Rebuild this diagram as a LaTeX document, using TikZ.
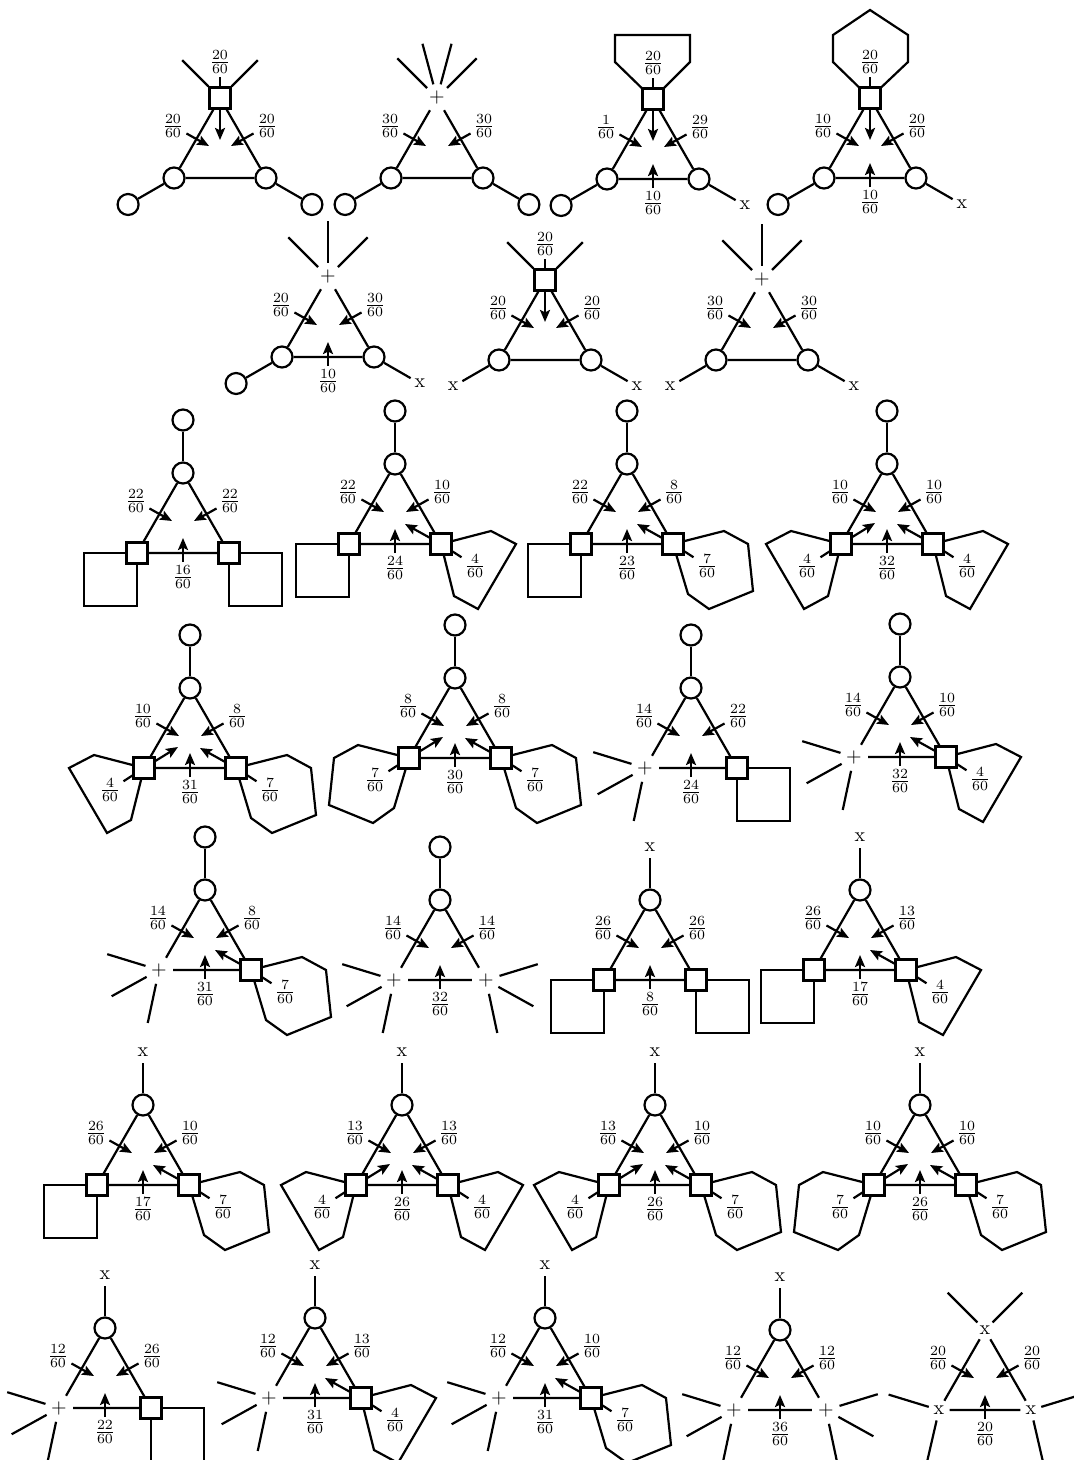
\documentclass[tikz,border=0pt]{standalone}
\usepackage{amsmath}
\usetikzlibrary{arrows.meta,calc,backgrounds}

% one triangle: name, top vertex (image px), shapes of top, left, right vertex
\newcommand{\tri}[6]{%
  \coordinate (#1o) at (#2,-#3);
  \node[#4, name=#1T, at={(#1o)}];
  \node[#5, name=#1L, at={($(#1o)+(-46,-80)$)}];
  \node[#6, name=#1R, at={($(#1o)+(46,-80)$)}];
  \draw (#1T) -- (#1L) -- (#1R) -- (#1T);
}
% edge weights
\newcommand{\edgeL}[2]{%
  \node[lab] (#1el) at ($(#1o)+(-47,-28)$) {$\frac{#2}{60}$};
  \coordinate (#1al) at ($(#1o)+(-11,-48)$);
  \draw[arr] (#1el) -- (#1al);
}
\newcommand{\edgeR}[2]{%
  \node[lab] (#1er) at ($(#1o)+(47,-28)$) {$\frac{#2}{60}$};
  \coordinate (#1ar) at ($(#1o)+(11,-48)$);
  \draw[arr] (#1er) -- (#1ar);
}
\newcommand{\edgeB}[2]{%
  \node[lab] (#1eb) at ($(#1o)+(0,-104)$) {$\frac{#2}{60}$};
  \coordinate (#1ab) at ($(#1o)+(0,-65)$);
  \draw[arr] (#1eb) -- (#1ab);
}
% vertex weights
\newcommand{\topArr}[2]{%
  \node[lab] (#1et) at ($(#1o)+(0,36)$) {$\frac{#2}{60}$};
  \draw (#1T) -- (#1et);
  \coordinate (#1at) at ($(#1o)+(0,-42)$);
  \draw[arr] (#1T) -- (#1at);
}
\newcommand{\vArrL}[2]{%
  \node[lab] (#1vl) at ($(#1o)+(-80,-102)$) {$\frac{#2}{60}$};
  \draw (#1L) -- (#1vl);
  \coordinate (#1bl) at ($(#1o)+(-12,-59)$);
  \draw[arr] (#1L) -- (#1bl);
}
\newcommand{\vArrR}[2]{%
  \node[lab] (#1vr) at ($(#1o)+(80,-102)$) {$\frac{#2}{60}$};
  \draw (#1R) -- (#1vr);
  \coordinate (#1br) at ($(#1o)+(10,-60)$);
  \draw[arr] (#1R) -- (#1br);
}
% half edges and pendants
\newcommand{\legs}[3]{\foreach \a in {#2} \draw (#1.\a) -- ++(\a:#3);}
\newcommand{\pendC}[2]{%
  \node[vc, name=#1p, at={($(#1)+(#2:53)$)}];
  \draw (#1) -- (#1p);
}
\newcommand{\pendX}[2]{%
  \node[vx, name=#1p, at={($(#1)+(#2:53)$)}];
  \draw (#1) -- (#1p);
}
% faces at a square vertex (s = 1 right, s = -1 left)
\newcommand{\faceSq}[2]{\begin{scope}[on background layer, shift={(#1.center)}, xscale=#2]
  \draw[faceline] (0,0) -- (53,0) -- (53,-53) -- (0,-53) -- cycle;
\end{scope}}
\newcommand{\facePent}[2]{\begin{scope}[on background layer, shift={(#1.center)}, xscale=#2]
  \draw[faceline] (0,0) -- (50,13) -- (75,0) -- (37,-65) -- (13,-52) -- cycle;
\end{scope}}
\newcommand{\faceHex}[2]{\begin{scope}[on background layer, shift={(#1.center)}, xscale=#2]
  \draw[faceline] (0,0) -- (51,13) -- (75,0) -- (80,-47) -- (36,-65) -- (15,-50) -- cycle;
\end{scope}}
\newcommand{\topPent}[1]{\begin{scope}[on background layer, shift={(#1.center)}]
  \draw[faceline] (0,0) -- (-38,37) -- (-38,64) -- (37,64) -- (37,37) -- cycle;
\end{scope}}
\newcommand{\topHex}[1]{\begin{scope}[on background layer, shift={(#1.center)}]
  \draw[faceline] (0,0) -- (-37,36) -- (-37,63) -- (0,88) -- (38,63) -- (38,36) -- cycle;
\end{scope}}

\begin{document}
\begin{tikzpicture}[x=0.5pt, y=0.5pt, line width=1.1pt,
    vc/.style={circle, draw, fill=white, minimum size=10.5pt, inner sep=0pt, node contents={}},
    vs/.style={rectangle, draw, fill=white, minimum size=10.5pt, inner sep=0pt, node contents={}},
    vp/.style={circle, inner sep=1pt, node contents={$+$}},
    vx/.style={circle, inner sep=1pt, node contents={x}},
    lab/.style={inner sep=1pt},
    faceline/.style={line width=1.1pt},
    arr/.style={-{Stealth[length=6pt, width=5pt, inset=1.2pt]}}]
    \useasboundingbox (0,0) rectangle (1073,-1460);

    % Row 1
    \tri{a}{220}{98}{vs}{vc}{vc} \topArr{a}{20} \edgeL{a}{20} \edgeR{a}{20}
    \legs{aT}{45,135}{37} \pendC{aL}{210} \pendC{aR}{330}

    \tri{b}{437}{98}{vp}{vc}{vc} \edgeL{b}{30} \edgeR{b}{30}
    \legs{bT}{45,75,105,135}{42} \pendC{bL}{210} \pendC{bR}{330}

    \tri{c}{653}{99}{vs}{vc}{vc} \topArr{c}{20} \edgeL{c}{1} \edgeR{c}{29} \edgeB{c}{10}
    \topPent{cT} \pendC{cL}{210} \pendX{cR}{330}

    \tri{d}{870}{98}{vs}{vc}{vc} \topArr{d}{20} \edgeL{d}{10} \edgeR{d}{20} \edgeB{d}{10}
    \topHex{dT} \pendC{dL}{210} \pendX{dR}{330}

    % Row 2
    \tri{e}{328}{277}{vp}{vc}{vc} \edgeL{e}{20} \edgeR{e}{30} \edgeB{e}{10}
    \legs{eT}{45,90,135}{42} \pendC{eL}{210} \pendX{eR}{330}

    \tri{f}{545}{280}{vs}{vc}{vc} \topArr{f}{20} \edgeL{f}{20} \edgeR{f}{20}
    \legs{fT}{45,135}{37} \pendX{fL}{210} \pendX{fR}{330}

    \tri{g}{762}{280}{vp}{vc}{vc} \edgeL{g}{30} \edgeR{g}{30}
    \legs{gT}{45,90,135}{42} \pendX{gL}{210} \pendX{gR}{330}

    % Row 3
    \tri{h}{183}{473}{vc}{vs}{vs} \edgeL{h}{22} \edgeR{h}{22} \edgeB{h}{16}
    \pendC{hT}{90} \faceSq{hL}{-1} \faceSq{hR}{1}

    \tri{i}{395}{464}{vc}{vs}{vs} \edgeL{i}{22} \edgeR{i}{10} \edgeB{i}{24}
    \pendC{iT}{90} \faceSq{iL}{-1} \facePent{iR}{1} \vArrR{i}{4}

    \tri{j}{627}{464}{vc}{vs}{vs} \edgeL{j}{22} \edgeR{j}{8} \edgeB{j}{23}
    \pendC{jT}{90} \faceSq{jL}{-1} \faceHex{jR}{1} \vArrR{j}{7}

    \tri{k}{887}{464}{vc}{vs}{vs} \edgeL{k}{10} \edgeR{k}{10} \edgeB{k}{32}
    \pendC{kT}{90} \facePent{kL}{-1} \facePent{kR}{1} \vArrL{k}{4} \vArrR{k}{4}

    % Row 4
    \tri{l}{190}{688}{vc}{vs}{vs} \edgeL{l}{10} \edgeR{l}{8} \edgeB{l}{31}
    \pendC{lT}{90} \facePent{lL}{-1} \faceHex{lR}{1} \vArrL{l}{4} \vArrR{l}{7}

    \tri{m}{455}{678}{vc}{vs}{vs} \edgeL{m}{8} \edgeR{m}{8} \edgeB{m}{30}
    \pendC{mT}{90} \faceHex{mL}{-1} \faceHex{mR}{1} \vArrL{m}{7} \vArrR{m}{7}

    \tri{n}{691}{688}{vc}{vp}{vs} \edgeL{n}{14} \edgeR{n}{22} \edgeB{n}{24}
    \pendC{nT}{90} \legs{nL}{163,209,258}{40} \faceSq{nR}{1}

    \tri{o}{900}{677}{vc}{vp}{vs} \edgeL{o}{14} \edgeR{o}{10} \edgeB{o}{32}
    \pendC{oT}{90} \legs{oL}{163,209,258}{40} \facePent{oR}{1} \vArrR{o}{4}

    % Row 5
    \tri{p}{205}{890}{vc}{vp}{vs} \edgeL{p}{14} \edgeR{p}{8} \edgeB{p}{31}
    \pendC{pT}{90} \legs{pL}{163,209,258}{40} \faceHex{pR}{1} \vArrR{p}{7}

    \tri{q}{440}{900}{vc}{vp}{vp} \edgeL{q}{14} \edgeR{q}{14} \edgeB{q}{32}
    \pendC{qT}{90} \legs{qL}{163,209,258}{40} \legs{qR}{17,331,282}{40}

    \tri{r}{650}{900}{vc}{vs}{vs} \edgeL{r}{26} \edgeR{r}{26} \edgeB{r}{8}
    \pendX{rT}{90} \faceSq{rL}{-1} \faceSq{rR}{1}

    \tri{s}{860}{890}{vc}{vs}{vs} \edgeL{s}{26} \edgeR{s}{13} \edgeB{s}{17}
    \pendX{sT}{90} \faceSq{sL}{-1} \facePent{sR}{1} \vArrR{s}{4}

    % Row 6
    \tri{t}{143}{1105}{vc}{vs}{vs} \edgeL{t}{26} \edgeR{t}{10} \edgeB{t}{17}
    \pendX{tT}{90} \faceSq{tL}{-1} \faceHex{tR}{1} \vArrR{t}{7}

    \tri{u}{402}{1105}{vc}{vs}{vs} \edgeL{u}{13} \edgeR{u}{13} \edgeB{u}{26}
    \pendX{uT}{90} \facePent{uL}{-1} \facePent{uR}{1} \vArrL{u}{4} \vArrR{u}{4}

    \tri{v}{655}{1105}{vc}{vs}{vs} \edgeL{v}{13} \edgeR{v}{10} \edgeB{v}{26}
    \pendX{vT}{90} \facePent{vL}{-1} \faceHex{vR}{1} \vArrL{v}{4} \vArrR{v}{7}

    \tri{w}{920}{1105}{vc}{vs}{vs} \edgeL{w}{10} \edgeR{w}{10} \edgeB{w}{26}
    \pendX{wT}{90} \faceHex{wL}{-1} \faceHex{wR}{1} \vArrL{w}{7} \vArrR{w}{7}

    % Row 7
    \tri{y}{105}{1328}{vc}{vp}{vs} \edgeL{y}{12} \edgeR{y}{26} \edgeB{y}{22}
    \pendX{yT}{90} \legs{yL}{163,209,258}{40} \faceSq{yR}{1}

    \tri{z}{315}{1318}{vc}{vp}{vs} \edgeL{z}{12} \edgeR{z}{13} \edgeB{z}{31}
    \pendX{zT}{90} \legs{zL}{163,209,258}{40} \facePent{zR}{1} \vArrR{z}{4}

    \tri{aa}{545}{1318}{vc}{vp}{vs} \edgeL{aa}{12} \edgeR{aa}{10} \edgeB{aa}{31}
    \pendX{aaT}{90} \legs{aaL}{163,209,258}{40} \faceHex{aaR}{1} \vArrR{aa}{7}

    \tri{ab}{780}{1330}{vc}{vp}{vp} \edgeL{ab}{12} \edgeR{ab}{12} \edgeB{ab}{36}
    \pendX{abT}{90} \legs{abL}{163,209,258}{40} \legs{abR}{17,331,282}{40}

    \tri{ac}{985}{1330}{vx}{vx}{vx} \edgeL{ac}{20} \edgeR{ac}{20} \edgeB{ac}{20}
    \legs{acT}{45,135}{42} \legs{acL}{163,257}{42} \legs{acR}{17,283}{42}
\end{tikzpicture}
\end{document}
